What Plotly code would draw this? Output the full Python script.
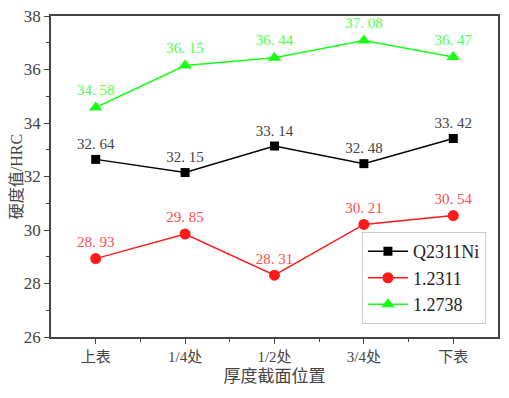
import plotly.graph_objects as go

categories = ["上表", "1/4处", "1/2处", "3/4处", "下表"]
q2311ni = [32.64, 32.15, 33.14, 32.48, 33.42]
s12311 = [28.93, 29.85, 28.31, 30.21, 30.54]
s12738 = [34.58, 36.15, 36.44, 37.08, 36.47]
y_ticks = [26, 28, 30, 32, 34, 36, 38]

x = list(range(len(categories)))
serif = "Times New Roman, Liberation Serif, DejaVu Serif, serif"
cjk = "Times New Roman, Liberation Serif, Noto Sans CJK SC, serif"

fig = go.Figure()
series = [
    ("Q2311Ni", q2311ni, "#000000", "square", 9, "#444444"),
    ("1.2311", s12311, "#ff1a1a", "circle", 11, "#ff4d4d"),
    ("1.2738", s12738, "#1aff1a", "triangle-up", 12, "#4dff4d"),
]
for name, vals, col, sym, sz, tcol in series:
    fig.add_trace(go.Scatter(
        x=x, y=vals, name=name, mode="lines+markers+text",
        line=dict(color=col, width=1.5),
        marker=dict(symbol=sym, size=sz, color=col),
        text=[f"{v:.2f}".replace(".", ". ") for v in vals],
        textposition="top center",
        textfont=dict(family=serif, size=15, color=tcol),
        cliponaxis=False,
    ))

fig.update_layout(
    width=501, height=390,
    margin=dict(l=43, r=11, t=8, b=61, autoexpand=False),
    paper_bgcolor="white", plot_bgcolor="white",
    showlegend=True,
    legend=dict(x=0.973, y=0.04, xanchor="right", yanchor="bottom",
                bordercolor="#cccccc", borderwidth=1,
                font=dict(family=serif, size=18, color="#222222"),
                itemwidth=40, tracegroupgap=0),
    font=dict(family=serif),
    shapes=[dict(type="line", xref="paper", yref="paper",
                 x0=1.0134, x1=1.0134, y0=-0.174, y1=1.019,
                 line=dict(color="#888888", width=1))],
)
fig.update_xaxes(
    automargin=False, ticklabeloverflow="allow",
    range=[-0.5, 4.5], tickvals=x, ticktext=categories,
    showline=True, linecolor="#444444", linewidth=1.5, mirror=True,
    ticks="outside", ticklen=5, tickcolor="#444444",
    minor=dict(tickvals=[0.5, 1.5, 2.5, 3.5], ticks="outside", ticklen=3, tickcolor="#444444"),
    tickfont=dict(family=cjk, size=15, color="#444444"),
    title=dict(text="厚度截面位置", font=dict(family=cjk, size=17, color="#444444"), standoff=6),
    showgrid=False, zeroline=False,
)
fig.update_yaxes(
    automargin=False, ticklabeloverflow="allow",
    range=[26, 38], tickvals=y_ticks,
    showline=True, linecolor="#444444", linewidth=1.5, mirror=True,
    ticks="outside", ticklen=5, tickcolor="#444444",
    minor=dict(tickvals=[27, 29, 31, 33, 35, 37], ticks="outside", ticklen=3, tickcolor="#444444"),
    tickfont=dict(family=serif, size=17, color="#444444"),
    title=dict(text="硬度值/HRC", font=dict(family=cjk, size=16, color="#444444"), standoff=3),
    showgrid=False, zeroline=False,
)

fig.write_html("out.html")
